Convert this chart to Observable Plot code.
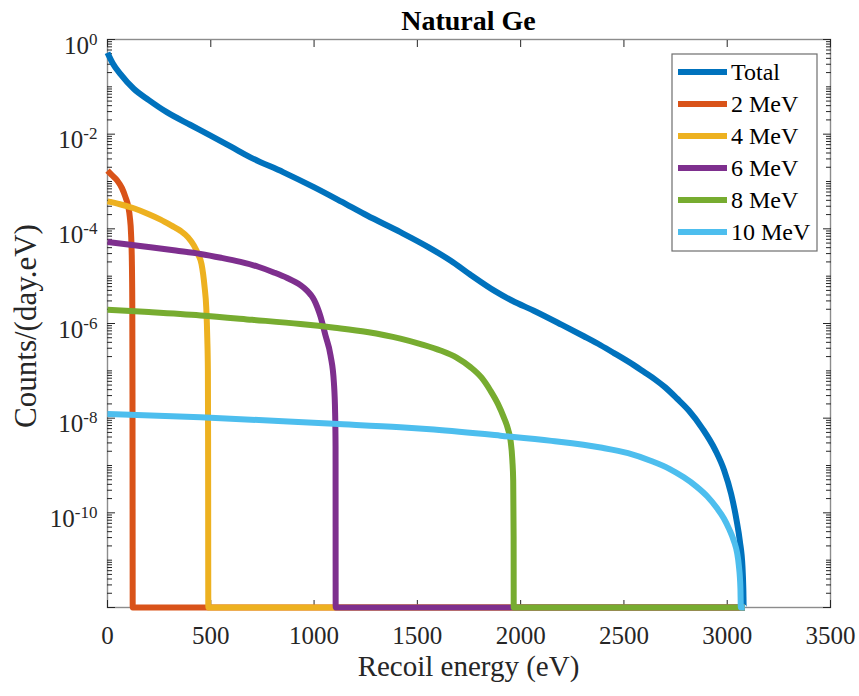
<!DOCTYPE html>
<html>
<head>
<meta charset="utf-8">
<script src="https://cdn.jsdelivr.net/npm/d3@7"></script>
<script src="https://cdn.jsdelivr.net/npm/@observablehq/plot@0.6"></script>
<style>
  body { margin: 0; background: #fff; }
  #chart { position: relative; width: 859px; height: 696px; }
</style>
</head>
<body>
<div id="chart"></div>
<script>
// ---------- Data ----------
const titleText = "Natural Ge";
const xLabel = "Recoil energy (eV)";
const yLabel = "Counts/(day.eV)";
const seriesNames = ["Total", "2 MeV", "4 MeV", "6 MeV", "8 MeV", "10 MeV"];
const seriesColors = ["#0072BD", "#D95319", "#EDB120", "#7E2F8E", "#77AC30", "#4DBEEE"];
const xTicks = [0, 500, 1000, 1500, 2000, 2500, 3000, 3500];
const yLabelExponents = [0, -2, -4, -6, -8, -10];

// Recoil energy (eV) and counts/(day.eV); 0 = no counts (drawn on the axis floor)
const totalE = [0, 25, 63, 127, 200, 289, 400, 499, 600, 692, 850, 999, 1130, 1257, 1418, 1555, 1660, 1760, 1870, 1960, 2064, 2200, 2306, 2387, 2450, 2548, 2596, 2650, 2700, 2758, 2814, 2880, 2943, 2985, 3019, 3045, 3061, 3074, 3078, 3080, 3085];
const totalC = [0.525, 0.316, 0.186, 0.0912, 0.0525, 0.0288, 0.0158, 9.33e-3, 5.37e-3, 3.24e-3, 1.58e-3, 7.59e-4, 3.80e-4, 1.91e-4, 8.51e-5, 4.07e-5, 2.14e-5, 1.05e-5, 5.01e-6, 3.02e-6, 1.86e-6, 9.33e-7, 5.37e-7, 3.47e-7, 2.40e-7, 1.32e-7, 9.55e-8, 6.61e-8, 4.47e-8, 2.57e-8, 1.45e-8, 6.03e-9, 2.09e-9, 7.94e-10, 2.51e-10, 7.08e-11, 2.57e-11, 7.08e-12, 2.51e-12, 0, 0];

const mev2E = [0, 20, 47, 70, 87, 100, 108, 114, 118, 120, 121, 121.5, 122, 3085];
const mev2C = [1.70e-3, 1.38e-3, 1.05e-3, 7.24e-4, 4.68e-4, 3.02e-4, 1.78e-4, 7.94e-5, 2.00e-5, 2.51e-6, 3.16e-8, 1e-10, 0, 0];

const mev4E = [0, 60, 127, 200, 257, 310, 353, 390, 418, 440, 455, 470, 478, 483, 486, 487, 488, 3085];
const mev4C = [3.80e-4, 3.31e-4, 2.72e-4, 2.04e-4, 1.57e-4, 1.17e-4, 9.12e-5, 6.61e-5, 4.47e-5, 2.82e-5, 1.82e-5, 5.89e-6, 2.19e-6, 5.01e-7, 1.00e-7, 3.16e-9, 0, 0];

const mev6E = [0, 100, 208, 330, 450, 550, 644, 730, 805, 870, 934, 967, 985, 1000, 1015, 1031, 1055, 1080, 1096, 1102, 1104, 1104.5, 3085];
const mev6C = [5.25e-5, 4.68e-5, 4.07e-5, 3.47e-5, 2.95e-5, 2.45e-5, 2.00e-5, 1.58e-5, 1.20e-5, 9.12e-6, 6.46e-6, 4.90e-6, 3.98e-6, 3.16e-6, 2.24e-6, 1.41e-6, 5.62e-7, 2.09e-7, 5.62e-8, 1.26e-8, 2.51e-9, 0, 0];

const mev8E = [0, 200, 450, 700, 934, 1100, 1257, 1418, 1520, 1612, 1690, 1757, 1810, 1854, 1890, 1918, 1940, 1951, 1960, 1964, 1966, 1966.5, 3085];
const mev8C = [1.95e-6, 1.74e-6, 1.48e-6, 1.20e-6, 9.77e-7, 8.13e-7, 6.61e-7, 4.79e-7, 3.63e-7, 2.69e-7, 1.91e-7, 1.20e-7, 7.24e-8, 3.80e-8, 2.00e-8, 1.05e-8, 5.62e-9, 3.39e-9, 1.26e-9, 4.79e-10, 3.16e-11, 0, 0];

const mev10E = [0, 450, 1095, 1418, 1580, 1902, 2150, 2387, 2520, 2629, 2720, 2790, 2850, 2903, 2950, 2984, 3010, 3032, 3048, 3056, 3064, 3066, 3085];
const mev10C = [1.23e-8, 1.05e-8, 7.59e-9, 6.46e-9, 5.75e-9, 4.27e-9, 3.31e-9, 2.40e-9, 1.82e-9, 1.26e-9, 8.51e-10, 5.62e-10, 3.63e-10, 2.24e-10, 1.26e-10, 7.59e-11, 4.47e-11, 2.57e-11, 1.41e-11, 7.94e-12, 2.51e-12, 0, 0];

// ---------- Build tables ----------
const yFloor = 1e-12;
const seriesE = [totalE, mev2E, mev4E, mev6E, mev8E, mev10E];
const seriesC = [totalC, mev2C, mev4C, mev6C, mev8C, mev10C];
const tables = seriesNames.map((name, s) =>
  seriesE[s].map((e, i) => ({series: name, E: e, C: seriesC[s][i]})));

const majorY = d3.range(0, -13, -2).map(k => Math.pow(10, k));
const minorY = [];
for (let k = -12; k < 0; k++) {
  for (let m = 2; m <= 9; m++) minorY.push(m * Math.pow(10, k));
  if (k % 2 !== 0) minorY.push(Math.pow(10, k));
}
const labelY = yLabelExponents.map(k => Math.pow(10, k));

const tickColor = "#262626";
const serif = "'Liberation Serif', 'Times New Roman', serif";

const lineMarks = tables.map((t, s) => Plot.line(t, {
  x: "E",
  y: d => Math.max(d.C, yFloor),
  stroke: seriesColors[s],
  strokeWidth: 6,
  curve: "monotone-x",
  strokeLinejoin: "round",
  strokeLinecap: "butt"
}));

const plot = Plot.plot({
  width: 859,
  height: 696,
  marginLeft: 107,
  marginRight: 29,
  marginTop: 39,
  marginBottom: 89,
  x: {domain: [0, 3500]},
  y: {type: "log", domain: [yFloor, 1]},
  style: {fontFamily: serif, fontSize: "25px", color: tickColor, background: "white", overflow: "visible"},
  marks: [
    Plot.frame({stroke: "#8c8c8c", strokeWidth: 1.4}),
    Plot.axisX(xTicks, {anchor: "bottom", tickSize: 0, tickPadding: 19, label: null, tickFormat: d => String(d), fontSize: 25}),
    Plot.axisX(xTicks, {anchor: "bottom", tickSize: -7, fill: "none", label: null, stroke: tickColor}),
    Plot.axisX(xTicks, {anchor: "top", tickSize: -7, fill: "none", label: null, stroke: tickColor}),
    Plot.axisY(labelY, {anchor: "left", tickSize: 0, tickPadding: 10, label: null, tickFormat: d => String(Math.round(Math.log10(d))), fontSize: 25}),
    Plot.axisY(majorY, {anchor: "left", tickSize: -8, fill: "none", label: null, stroke: tickColor}),
    Plot.axisY(minorY, {anchor: "left", tickSize: -5, fill: "none", label: null, stroke: tickColor}),
    Plot.axisY(majorY, {anchor: "right", tickSize: -8, fill: "none", label: null, stroke: tickColor}),
    Plot.axisY(minorY, {anchor: "right", tickSize: -5, fill: "none", label: null, stroke: tickColor}),
    ...lineMarks
  ]
});

document.getElementById("chart").appendChild(plot);
const svg = d3.select(plot);

// Power-of-ten labels with superscript exponents
svg.selectAll('g[aria-label="y-axis tick label"] text').each(function() {
  const t = d3.select(this);
  const e = t.text();
  t.text(null).attr("y", null);
  t.append("tspan").attr("dy", 14).text("10");
  t.append("tspan").attr("dy", -9).attr("font-size", 17).text(e);
});

// Title
svg.append("text")
  .attr("x", 468.5).attr("y", 30)
  .attr("text-anchor", "middle")
  .attr("font-family", serif)
  .attr("font-weight", "bold")
  .attr("font-size", 28)
  .attr("fill", "#000")
  .text(titleText);

// Axis titles
svg.append("text")
  .attr("x", 468.5).attr("y", 676)
  .attr("text-anchor", "middle")
  .attr("font-family", serif)
  .attr("font-size", 29)
  .attr("fill", tickColor)
  .text(xLabel);

svg.append("text")
  .attr("transform", "translate(36,326) rotate(-90)")
  .attr("text-anchor", "middle")
  .attr("font-family", serif)
  .attr("font-size", 31)
  .attr("fill", tickColor)
  .text(yLabel);

// Legend
const lg = svg.append("g").attr("class", "legend");
lg.append("rect")
  .attr("x", 672).attr("y", 54).attr("width", 145).attr("height", 197)
  .attr("fill", "#fff").attr("stroke", "#6e6e6e").attr("stroke-width", 1.2);
seriesNames.forEach((name, i) => {
  const cy = 72 + i * 32;
  lg.append("line")
    .attr("x1", 678).attr("x2", 727).attr("y1", cy).attr("y2", cy)
    .attr("stroke", seriesColors[i]).attr("stroke-width", 6);
  lg.append("text")
    .attr("x", 731).attr("y", cy).attr("dy", "0.35em")
    .attr("text-anchor", "start")
    .attr("font-family", serif)
    .attr("font-size", 24)
    .attr("fill", "#000")
    .text(name);
});
</script>
</body>
</html>
